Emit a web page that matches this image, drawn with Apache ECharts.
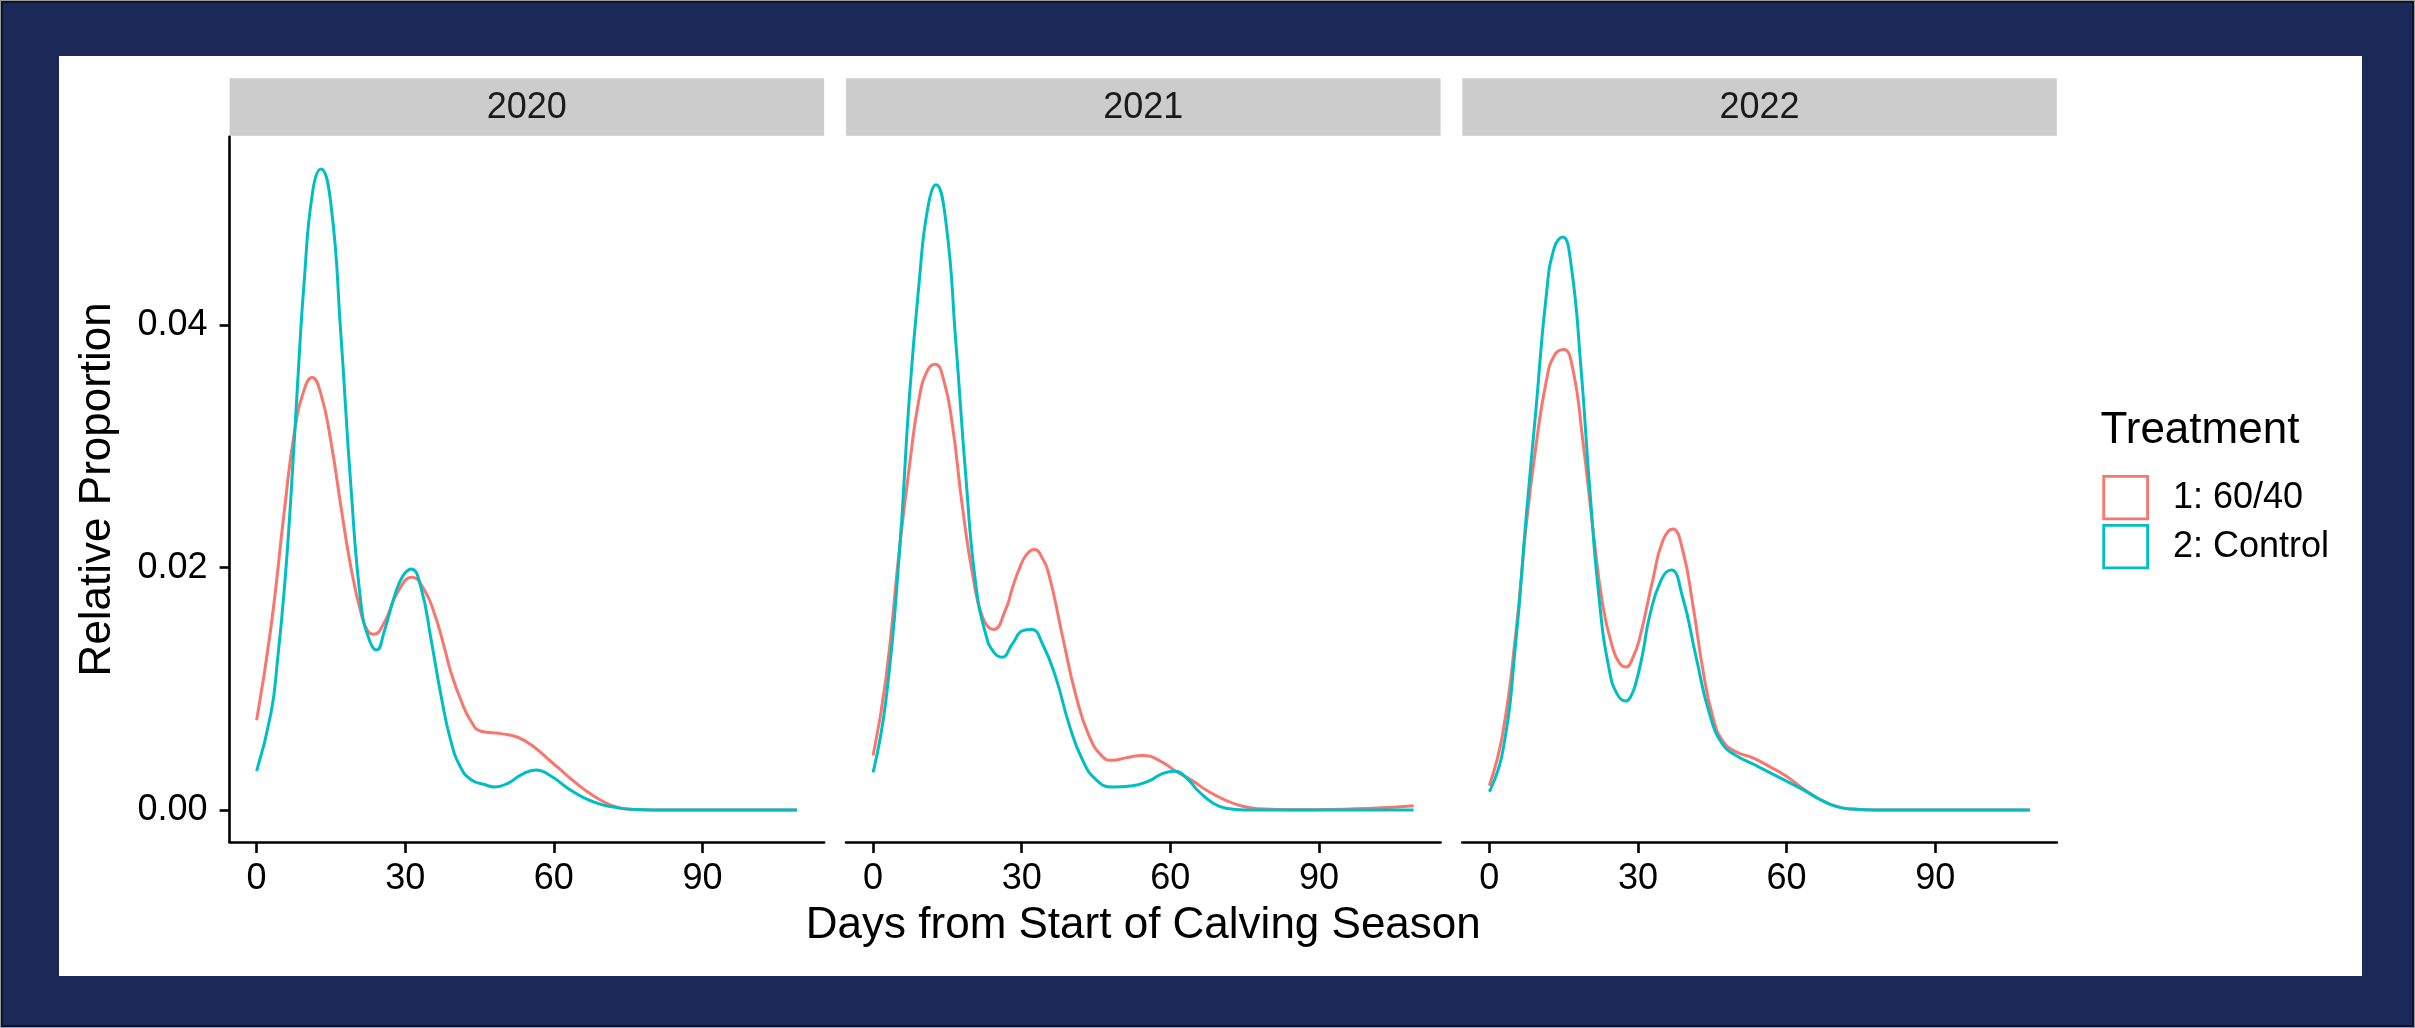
<!DOCTYPE html>
<html><head><meta charset="utf-8">
<script src="https://cdn.jsdelivr.net/npm/echarts@6/dist/echarts.min.js"></script>
<style>
html,body{margin:0;padding:0;background:#1a2957;overflow:hidden;}
#frame{position:absolute;left:0;top:0;width:2413px;height:1026px;border:1px solid #9a9a9a;box-sizing:content-box;}
#frame2{position:absolute;left:1px;top:1px;width:2409px;height:1022px;border:2px solid #0b1233;}
#bg{position:absolute;left:59px;top:56px;width:2303px;height:920px;background:#fff;}
#chart{position:absolute;left:0;top:0;width:2415px;height:1028px;}
</style></head><body>
<div id="frame"></div><div id="frame2"></div>
<div id="bg"></div><div id="chart"></div>
<script>
// ---- data ----
const years = ['2020', '2021', '2022'];
const treatments = ['1: 60/40', '2: Control'];
const xTicks = [0, 30, 60, 90];
const yTicks = [0, 0.02, 0.04];

const red2020 = [[0,0.0074],[2.9,0.0151],[5.6,0.0247],[7.6,0.0311],[9.6,0.0347],[11.2,0.0357],[13.0,0.0343],[15.0,0.0304],[17.0,0.0251],[19.0,0.0201],[21.1,0.0162],[22.4,0.0148],[23.6,0.0145],[25.8,0.0155],[28.5,0.0180],[31.4,0.0192],[33.8,0.0182],[35.9,0.0162],[37.9,0.0134],[39.2,0.0114],[41.2,0.0091],[43.3,0.0073],[45.3,0.0065],[49.3,0.0063],[52.7,0.0060],[56.0,0.0052],[59.4,0.0040],[62.8,0.0028],[66.1,0.0017],[69.5,0.0008],[72.9,0.0002],[76.2,0.00004],[80,0],[90,0],[100,0],[109.1,0]];
const cyan2020 = [[0,0.0032],[2.9,0.0080],[4.2,0.0123],[5.6,0.0183],[6.9,0.0257],[8.3,0.0354],[9.6,0.0436],[11.3,0.0510],[13.0,0.0529],[15.0,0.0500],[17.0,0.0393],[19.0,0.0269],[21.1,0.0169],[22.7,0.0141],[24.2,0.0132],[25.8,0.0148],[27.8,0.0176],[29.5,0.0193],[31.2,0.0199],[33.2,0.0183],[35.2,0.0141],[37.2,0.0095],[39.2,0.0057],[41.2,0.0035],[43.3,0.0025],[46.0,0.0021],[48.0,0.0019],[50.7,0.0022],[53.4,0.0029],[56.4,0.0033],[59.4,0.0028],[62.8,0.0018],[66.1,0.0010],[69.5,0.00046],[72.9,0.00018],[76.2,0.00004],[80,0],[90,0],[100,0],[109.1,0]];

const red2021 = [[0,0.0045],[2.6,0.0109],[5.3,0.0215],[7.3,0.0283],[9.3,0.0340],[11.0,0.0363],[12.5,0.0368],[14.3,0.0354],[16.0,0.0318],[18.0,0.0251],[20.1,0.0194],[22.1,0.0159],[24.3,0.0149],[26.8,0.0166],[28.1,0.0183],[29.5,0.0199],[31.0,0.0211],[32.6,0.0215],[34.0,0.0209],[35.5,0.0194],[38.2,0.0144],[40.9,0.0095],[43.6,0.0061],[46.3,0.0044],[48.3,0.0041],[51.0,0.0043],[54.4,0.0045],[57.7,0.0041],[61.1,0.0032],[64.5,0.0024],[67.8,0.0015],[71.2,0.0008],[74.6,0.0003],[77.9,0.0001],[85,0.00001],[95,0.00006],[100,0.00012],[105,0.00022],[109.1,0.00035]];
const cyan2021 = [[0,0.0031],[2.6,0.0091],[5.3,0.0212],[7.3,0.0340],[9.3,0.0436],[11.0,0.0496],[12.7,0.0516],[14.7,0.0485],[16.7,0.0386],[18.7,0.0276],[20.7,0.0187],[22.8,0.0144],[24.4,0.0130],[26.0,0.0126],[28.1,0.0137],[30.2,0.0148],[32.0,0.0149],[34.2,0.0137],[36.9,0.0109],[39.6,0.0070],[42.3,0.0041],[45.0,0.0025],[48.3,0.0019],[52.4,0.0020],[55.7,0.0024],[58.4,0.0030],[60.8,0.0032],[63.1,0.0027],[65.8,0.0015],[68.5,0.0006],[71.2,0.00014],[75,0],[90,0],[100,0],[109.1,0]];

const red2022 = [[0,0.0020],[2.7,0.0063],[5.4,0.0148],[7.4,0.0233],[9.4,0.0300],[11.5,0.0354],[13.1,0.0375],[15.0,0.0380],[16.8,0.0365],[18.9,0.0304],[20.9,0.0233],[22.9,0.0169],[24.9,0.0134],[26.3,0.0121],[27.6,0.0118],[28.9,0.0125],[30.3,0.0141],[33.0,0.0190],[35.0,0.0222],[37.0,0.0232],[39.0,0.0215],[41.1,0.0169],[43.1,0.0116],[45.1,0.0077],[47.1,0.0057],[49.8,0.0048],[53.2,0.0043],[56.5,0.0036],[59.9,0.0028],[63.2,0.0018],[66.6,0.0009],[70.0,0.0003],[73.3,0.00007],[78,0],[90,0],[100,0],[109.1,0]];
const cyan2022 = [[0,0.0015],[2.7,0.0048],[5.4,0.0141],[7.4,0.0240],[9.4,0.0330],[11.5,0.0425],[13.1,0.0464],[14.8,0.0473],[16.5,0.0450],[18.5,0.0365],[20.2,0.0269],[22.2,0.0173],[24.2,0.0116],[25.9,0.0095],[27.6,0.0090],[28.6,0.0094],[29.6,0.0105],[31.0,0.0130],[32.3,0.0159],[34.7,0.0190],[36.7,0.0198],[39.0,0.0176],[41.7,0.0127],[44.4,0.0080],[47.1,0.0054],[49.8,0.0045],[53.2,0.0038],[56.5,0.0031],[59.9,0.0024],[63.2,0.0017],[66.6,0.0009],[70.0,0.0003],[73.3,0.00007],[78,0],[90,0],[100,0],[109.1,0]];

const seriesByYear = [[red2020, cyan2020], [red2021, cyan2021], [red2022, cyan2022]];

// ---- layout / style ----
const FONT = '"Liberation Sans", Arial, Helvetica, sans-serif';
const COLORS = ['#F8766D', '#00BFC4'];
const X_MIN = -5.455, X_MAX = 114.555;
const Y_MIN = -0.002646, Y_MAX = 0.055576;
const gridLefts = [229.6, 846.1, 1462.3];
const GRID_W = 594.5, GRID_TOP = 136.7, GRID_H = 705.3;
const STRIP_TOP = 78.3;

const chart = echarts.init(document.getElementById('chart'), null, {renderer: 'canvas'});

const grids = gridLefts.map(l => ({left: l, top: GRID_TOP, width: GRID_W, height: GRID_H, containLabel: false}));
const xAxes = gridLefts.map((l, i) => ({
  type: 'value', gridIndex: i, min: X_MIN, max: X_MAX,
  axisLine: {show: true, onZero: false, lineStyle: {color: '#000', width: 2.6}},
  axisTick: {show: true, customValues: xTicks, length: 11, lineStyle: {color: '#000', width: 2.6}},
  axisLabel: {show: true, customValues: xTicks, margin: 19, fontSize: 36, color: '#000', fontFamily: FONT, formatter: v => String(v)},
  splitLine: {show: false}
}));
const yAxes = gridLefts.map((l, i) => ({
  type: 'value', gridIndex: i, min: Y_MIN, max: Y_MAX,
  axisLine: {show: i === 0, onZero: false, lineStyle: {color: '#000', width: 2.6}},
  axisTick: {show: i === 0, customValues: yTicks, length: 10, lineStyle: {color: '#000', width: 2.6}},
  axisLabel: {show: i === 0, customValues: yTicks, margin: 22, fontSize: 36, color: '#000', fontFamily: FONT, formatter: v => v.toFixed(2)},
  splitLine: {show: false}
}));

const series = [];
seriesByYear.forEach((pair, i) => {
  pair.forEach((data, k) => {
    series.push({
      type: 'line', name: treatments[k], xAxisIndex: i, yAxisIndex: i,
      data: data, showSymbol: false, smooth: 0.5,
      lineStyle: {color: COLORS[k], width: 3}, itemStyle: {color: COLORS[k]},
      z: 2 + k, silent: true, animation: false
    });
  });
});

const graphics = [];
gridLefts.forEach((l, i) => {
  graphics.push({type: 'rect', shape: {x: l, y: STRIP_TOP, width: GRID_W, height: GRID_TOP - STRIP_TOP - 1}, style: {fill: '#cccccc'}, z: -1});
  graphics.push({type: 'text', x: l + GRID_W / 2, y: 107.6, style: {text: years[i], fontSize: 36, fontFamily: FONT, fill: '#1a1a1a', align: 'center', verticalAlign: 'middle'}});
});
graphics.push({type: 'text', x: 1143.3, y: 926, style: {text: 'Days from Start of Calving Season', fontSize: 44, fontFamily: FONT, fill: '#000', align: 'center', verticalAlign: 'middle'}});
graphics.push({type: 'text', x: 97.5, y: 489.3, rotation: Math.PI / 2, style: {text: 'Relative Proportion', fontSize: 44, fontFamily: FONT, fill: '#000', align: 'center', verticalAlign: 'middle'}});
// legend
graphics.push({type: 'text', x: 2100.5, y: 431, style: {text: 'Treatment', fontSize: 44, fontFamily: FONT, fill: '#000', align: 'left', verticalAlign: 'middle'}});
const keyTops = [476.4, 525.4];
treatments.forEach((t, k) => {
  graphics.push({type: 'rect', shape: {x: 2103.7, y: keyTops[k], width: 43.9, height: 42.4}, style: {fill: '#fff', stroke: COLORS[k], lineWidth: 2.8}});
  graphics.push({type: 'text', x: 2173, y: keyTops[k] + 21.5, style: {text: t, fontSize: 36, fontFamily: FONT, fill: '#000', align: 'left', verticalAlign: 'middle'}});
});

chart.setOption({
  backgroundColor: 'transparent',
  animation: false,
  grid: grids, xAxis: xAxes, yAxis: yAxes, series: series,
  graphic: {elements: graphics}
});
</script></body></html>
